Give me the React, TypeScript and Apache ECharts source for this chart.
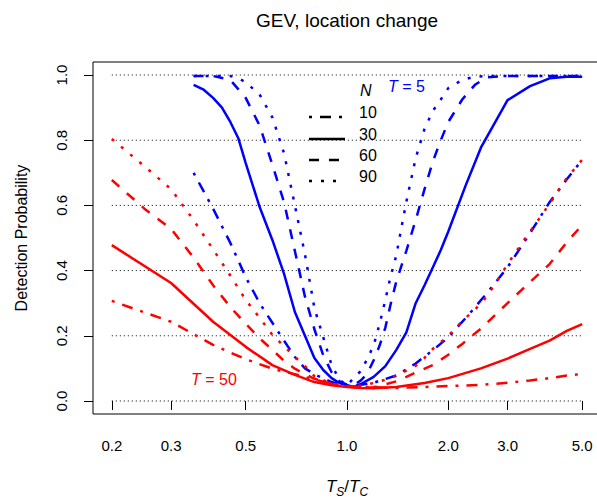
import React, { useEffect, useRef } from "react";
import * as echarts from "echarts";

const xTicks = [0.2, 0.3, 0.5, 1.0, 2.0, 3.0, 5.0];
const yTicks = [0, 0.2, 0.4, 0.6, 0.8, 1.0];
const xMin = 0.17585;
const xMax = 5.6865;

// T = 5 (blue)
const blue10x = [0.35, 0.4, 0.45, 0.5, 0.55, 0.6, 0.65, 0.7, 0.75, 0.8, 0.9, 1.0, 1.1, 1.2, 1.4, 1.6, 1.8, 2.0, 2.3, 2.6, 3.0, 3.5, 4.0, 4.5, 5.0];
const blue10y = [0.70, 0.59, 0.485, 0.38, 0.30, 0.24, 0.185, 0.135, 0.10, 0.082, 0.058, 0.048, 0.05, 0.056, 0.078, 0.115, 0.156, 0.195, 0.265, 0.33, 0.41, 0.515, 0.61, 0.68, 0.74];

const blue30x = [0.35, 0.375, 0.4, 0.425, 0.45, 0.475, 0.5, 0.55, 0.6, 0.65, 0.7, 0.75, 0.8, 0.85, 0.9, 0.95, 1.0, 1.05, 1.1, 1.2, 1.3, 1.4, 1.5, 1.6, 1.7, 1.8, 1.9, 2.0, 2.25, 2.5, 3.0, 3.5, 4.0, 4.5, 5.0];
const blue30y = [0.97, 0.955, 0.93, 0.9, 0.856, 0.807, 0.73, 0.595, 0.494, 0.39, 0.273, 0.2, 0.132, 0.095, 0.07, 0.055, 0.048, 0.043, 0.052, 0.074, 0.107, 0.156, 0.21, 0.3, 0.355, 0.41, 0.463, 0.52, 0.66, 0.777, 0.923, 0.966, 0.99, 0.995, 0.995];

const blue60x = [0.35, 0.4, 0.45, 0.5, 0.55, 0.6, 0.65, 0.7, 0.75, 0.8, 0.85, 0.9, 0.95, 1.0, 1.05, 1.1, 1.15, 1.2, 1.25, 1.3, 1.35, 1.4, 1.5, 1.6, 1.7, 1.8, 1.9, 2.0, 2.2, 2.4, 2.6, 3.0, 4.0, 5.0];
const blue60y = [0.997, 0.997, 0.985, 0.93, 0.845, 0.725, 0.61, 0.46, 0.32, 0.22, 0.14, 0.088, 0.06, 0.05, 0.05, 0.063, 0.085, 0.125, 0.17, 0.225, 0.3, 0.365, 0.46, 0.555, 0.65, 0.735, 0.8, 0.856, 0.925, 0.97, 0.993, 0.997, 0.997, 0.997];

const blue90x = [0.35, 0.4, 0.45, 0.475, 0.5, 0.55, 0.6, 0.65, 0.7, 0.75, 0.8, 0.85, 0.9, 0.95, 1.0, 1.05, 1.1, 1.15, 1.2, 1.25, 1.3, 1.35, 1.4, 1.45, 1.5, 1.6, 1.7, 1.8, 1.9, 2.0, 2.2, 2.4, 2.6, 3.0, 4.0, 5.0];
const blue90y = [0.997, 0.997, 0.997, 0.99, 0.978, 0.94, 0.87, 0.76, 0.6, 0.45, 0.285, 0.195, 0.11, 0.065, 0.047, 0.072, 0.092, 0.13, 0.17, 0.237, 0.31, 0.385, 0.445, 0.53, 0.61, 0.745, 0.835, 0.89, 0.925, 0.96, 0.985, 0.995, 0.997, 0.997, 0.997, 0.997];

// T = 50 (red)
const red10x = [0.2, 0.3, 0.4, 0.5, 0.6, 0.7, 0.8, 0.9, 1.0, 1.2, 1.4, 1.7, 2.0, 2.5, 3.0, 3.5, 4.0, 4.5, 5.0];
const red10y = [0.307, 0.243, 0.172, 0.128, 0.099, 0.082, 0.066, 0.053, 0.045, 0.042, 0.04, 0.043, 0.046, 0.049, 0.056, 0.063, 0.07, 0.078, 0.083];

const red30x = [0.2, 0.3, 0.4, 0.5, 0.6, 0.7, 0.8, 0.9, 1.0, 1.1, 1.2, 1.4, 1.7, 2.0, 2.5, 3.0, 3.5, 4.0, 4.5, 5.0];
const red30y = [0.478, 0.362, 0.243, 0.166, 0.11, 0.08, 0.058, 0.048, 0.043, 0.04, 0.039, 0.043, 0.055, 0.07, 0.1, 0.13, 0.16, 0.185, 0.215, 0.236];

const red60x = [0.2, 0.25, 0.3, 0.35, 0.4, 0.45, 0.5, 0.55, 0.6, 0.65, 0.7, 0.75, 0.8, 0.9, 1.0, 1.1, 1.2, 1.4, 1.6, 1.8, 2.0, 2.2, 2.5, 3.0, 3.5, 4.0, 4.5, 5.0];
const red60y = [0.678, 0.59, 0.528, 0.44, 0.355, 0.288, 0.237, 0.192, 0.157, 0.123, 0.099, 0.082, 0.068, 0.053, 0.045, 0.04, 0.042, 0.06, 0.087, 0.11, 0.142, 0.175, 0.222, 0.3, 0.365, 0.42, 0.487, 0.54];

const red90x = [0.2, 0.25, 0.3, 0.35, 0.4, 0.45, 0.5, 0.55, 0.6, 0.65, 0.7, 0.75, 0.8, 0.85, 0.9, 1.0, 1.1, 1.2, 1.3, 1.4, 1.5, 1.6, 1.7, 1.8, 2.0, 2.2, 2.4, 2.6, 2.8, 3.0, 3.5, 4.0, 4.5, 5.0];
const red90y = [0.804, 0.72, 0.65, 0.555, 0.465, 0.385, 0.31, 0.255, 0.203, 0.168, 0.135, 0.107, 0.076, 0.064, 0.053, 0.045, 0.047, 0.055, 0.065, 0.077, 0.093, 0.108, 0.132, 0.16, 0.2, 0.245, 0.28, 0.32, 0.37, 0.42, 0.52, 0.605, 0.684, 0.74];

const legendLabels = ["10", "30", "60", "90"];
const BLUE = "#0000ff";
const RED = "#ff0000";
const FONT = "Liberation Sans, Arial, Helvetica, sans-serif";

const DASHDOT = [3, 8, 11, 8];
const SOLID: any = "solid";
const DASHED = [10, 10];
const DOTTED = [3, 9];
const dashes = [DASHDOT, SOLID, DASHED, DOTTED];

function pairs(xs: number[], ys: number[]) {
  return xs.map((x, i) => [x, ys[i]]);
}

function curve(name: string, xs: number[], ys: number[], color: string, type: any) {
  return {
    name,
    type: "line",
    data: pairs(xs, ys),
    showSymbol: false,
    symbol: "none",
    silent: true,
    lineStyle: { color, width: 2.5, type, cap: "butt" },
    z: 3,
  };
}

export default function App() {
  const ref = useRef<HTMLDivElement>(null);
  useEffect(() => {
    if (!ref.current) return;
    const chart = echarts.init(ref.current, undefined, { renderer: "svg" });

    const gridSeries = yTicks.map((y) => ({
      type: "line",
      data: [[xTicks[0], y], [xTicks[xTicks.length - 1], y]],
      showSymbol: false,
      symbol: "none",
      silent: true,
      lineStyle: { color: "#000", width: 1, type: [1, 3] },
      z: 1,
    }));

    const legendLineY = [117, 139, 160, 181];
    const legendGraphics: any[] = [];
    legendLabels.forEach((lab, i) => {
      legendGraphics.push({
        type: "line",
        shape: { x1: 309, y1: legendLineY[i], x2: 345, y2: legendLineY[i] },
        style: {
          stroke: "#000",
          lineWidth: 2.5,
          lineDash: dashes[i] === SOLID ? null : dashes[i],
        },
      });
      legendGraphics.push({
        type: "text",
        x: 359,
        y: legendLineY[i] - 5,
        style: {
          text: lab,
          fill: "#000",
          font: `16px ${FONT}`,
          textAlign: "left",
          textVerticalAlign: "middle",
        },
      });
    });
    legendGraphics.push({
      type: "text",
      x: 360,
      y: 90,
      style: {
        text: "N",
        fill: "#000",
        font: `italic 16px ${FONT}`,
        textAlign: "left",
        textVerticalAlign: "middle",
      },
    });
    legendGraphics.push({
      type: "text",
      x: 388,
      y: 86,
      style: {
        text: "{i|T} = 5",
        fill: BLUE,
        font: `16px ${FONT}`,
        textAlign: "left",
        textVerticalAlign: "middle",
        rich: { i: { fontStyle: "italic", fontSize: 16, fontFamily: FONT, fill: BLUE } },
      },
    });
    legendGraphics.push({
      type: "text",
      x: 191,
      y: 379,
      style: {
        text: "{i|T} = 50",
        fill: RED,
        font: `16px ${FONT}`,
        textAlign: "left",
        textVerticalAlign: "middle",
        rich: { i: { fontStyle: "italic", fontSize: 16, fontFamily: FONT, fill: RED } },
      },
    });

    chart.setOption({
      animation: false,
      backgroundColor: "#ffffff",
      title: {
        text: "GEV, location change",
        left: 347,
        top: 11,
        padding: 0,
        textAlign: "center",
        textStyle: { fontFamily: FONT, fontSize: 19, fontWeight: "normal", color: "#000" },
      },
      grid: {
        left: 93,
        top: 62,
        width: 508,
        height: 352,
        show: true,
        borderColor: "#000",
        borderWidth: 1,
        backgroundColor: "transparent",
        containLabel: false,
        outerBoundsMode: "none",
      },
      xAxis: {
        type: "log",
        min: xMin,
        max: xMax,
        logBase: 10,
        axisLine: { show: false },
        splitLine: { show: false },
        minorTick: { show: false },
        axisTick: { show: true, length: 9, customValues: xTicks, lineStyle: { color: "#000", width: 1 } },
        axisLabel: {
          customValues: xTicks,
          formatter: (v: number) => v.toFixed(1),
          fontFamily: FONT,
          fontSize: 15,
          color: "#000",
          margin: 24,
        },
        name: "{i|T}{s|S}{n|/}{i|T}{s|C}",
        nameLocation: "middle",
        nameGap: 60,
        nameTextStyle: {
          color: "#000",
          fontFamily: FONT,
          fontSize: 16,
          rich: {
            i: { fontStyle: "italic", fontSize: 17, fontFamily: FONT, color: "#000", lineHeight: 24, verticalAlign: "middle" },
            n: { fontSize: 17, fontFamily: FONT, color: "#000", lineHeight: 24, verticalAlign: "middle" },
            s: { fontStyle: "italic", fontSize: 12, fontFamily: FONT, color: "#000", lineHeight: 12, verticalAlign: "bottom" },
          },
        },
      },
      yAxis: {
        type: "value",
        min: -0.04,
        max: 1.04,
        axisLine: { show: false },
        splitLine: { show: false },
        axisTick: { show: true, length: 9, customValues: yTicks, lineStyle: { color: "#000", width: 1 } },
        axisLabel: {
          customValues: yTicks,
          formatter: (v: number) => v.toFixed(1),
          rotate: 90,
          fontFamily: FONT,
          fontSize: 15,
          color: "#000",
          margin: 24,
        },
        name: "Detection Probability",
        nameLocation: "middle",
        nameGap: 64,
        nameTextStyle: { color: "#000", fontFamily: FONT, fontSize: 16 },
      },
      series: [
        ...gridSeries,
        curve("T=5, N=10", blue10x, blue10y, BLUE, DASHDOT),
        curve("T=5, N=30", blue30x, blue30y, BLUE, SOLID),
        curve("T=5, N=60", blue60x, blue60y, BLUE, DASHED),
        curve("T=5, N=90", blue90x, blue90y, BLUE, DOTTED),
        curve("T=50, N=10", red10x, red10y, RED, DASHDOT),
        curve("T=50, N=30", red30x, red30y, RED, SOLID),
        curve("T=50, N=60", red60x, red60y, RED, DASHED),
        curve("T=50, N=90", red90x, red90y, RED, DOTTED),
      ],
      graphic: legendGraphics,
    });
    return () => chart.dispose();
  }, []);
  return (
    <div
      ref={ref}
      style={{ position: "fixed", left: 0, top: 0, width: 597, height: 500, background: "#fff" }}
    />
  );
}
